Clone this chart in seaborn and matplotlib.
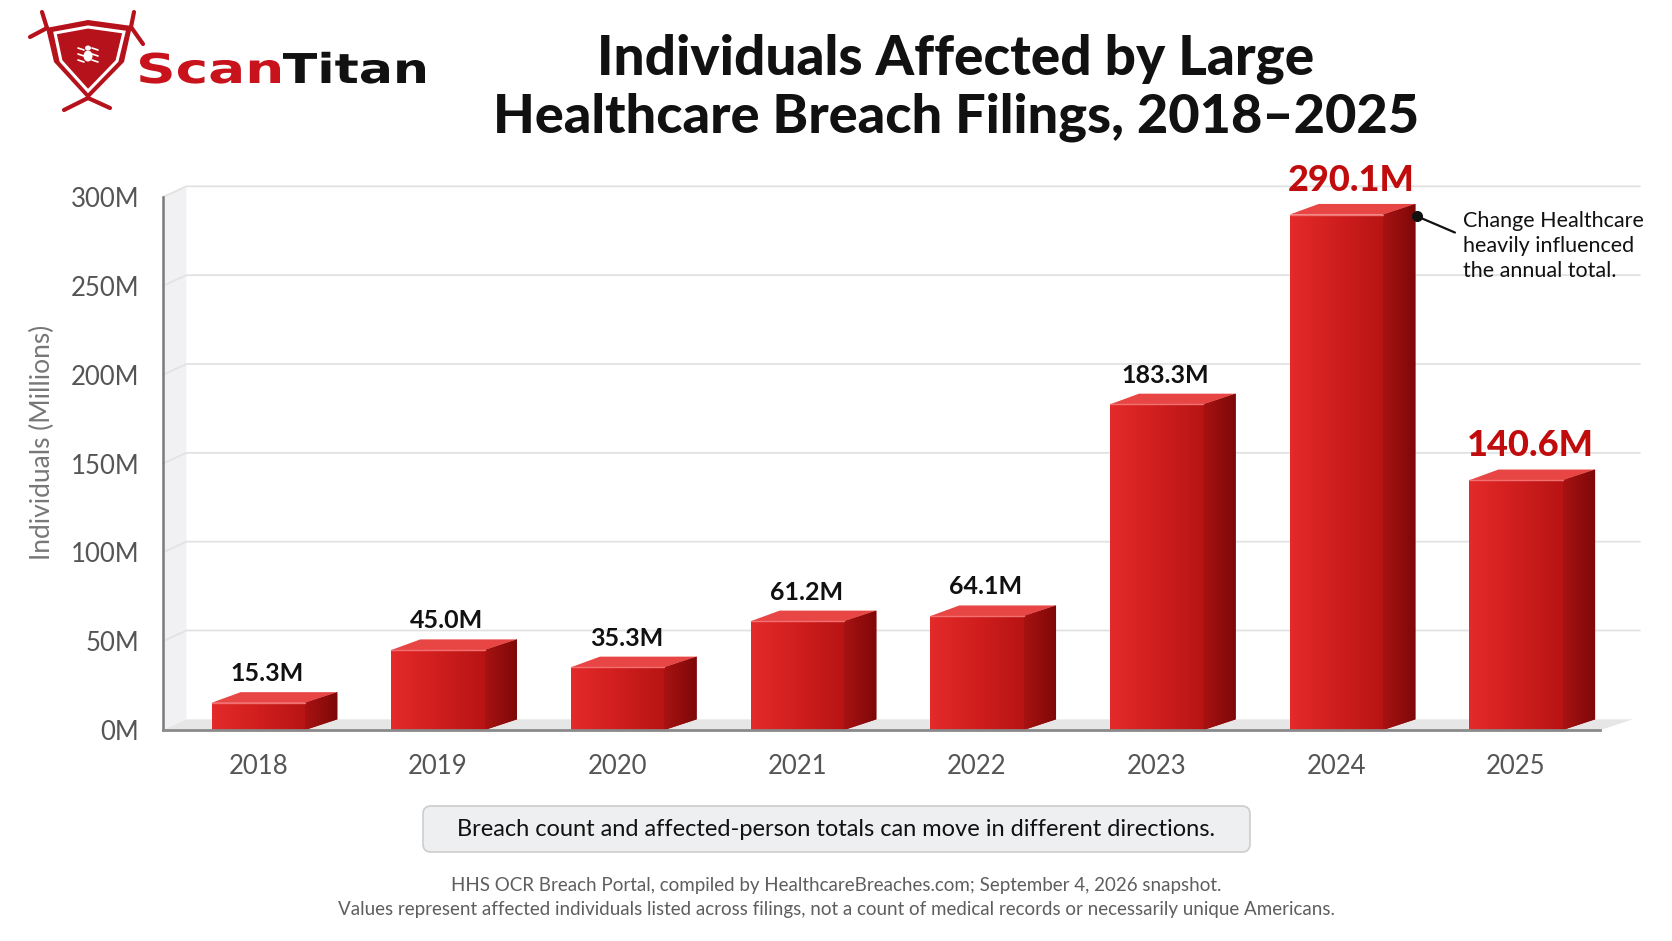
import numpy as np
import pandas as pd
import matplotlib
matplotlib.use("Agg")
import matplotlib.pyplot as plt
from matplotlib.patches import Polygon, FancyBboxPatch, PathPatch, Ellipse
from matplotlib.textpath import TextPath
from matplotlib.font_manager import FontProperties
from matplotlib.transforms import Affine2D
import seaborn as sns

# data
years = ["2018", "2019", "2020", "2021", "2022", "2023", "2024", "2025"]
individuals_m = [15.3, 45.0, 35.3, 61.2, 64.1, 183.3, 290.1, 140.6]
value_labels = ["15.3M", "45.0M", "35.3M", "61.2M", "64.1M", "183.3M", "290.1M", "140.6M"]
highlight_years = ["2024", "2025"]
y_ticks = [0, 50, 100, 150, 200, 250, 300]
y_ticklabels = ["0M", "50M", "100M", "150M", "200M", "250M", "300M"]

df = pd.DataFrame({"year": years, "individuals": individuals_m})

sns.set_theme(style="white")
plt.rcParams["font.family"] = ["Lato", "DejaVu Sans"]

RED = "#D42222"
SIDE = "#981010"
TOP = "#E84545"
DARK_RED = "#C00C0C"
GREY = "#555555"

W, H = 1672, 941
fig = plt.figure(figsize=(W / 100, H / 100), dpi=100)
fig.patch.set_facecolor("white")

# main axes, placed in pixel terms
ax_left, ax_right, ax_top, ax_bot = 163, 1640, 197, 730
ax = fig.add_axes([ax_left / W, 1 - ax_bot / H, (ax_right - ax_left) / W, (ax_bot - ax_top) / H])
xmin, xmax = -0.53, 7.69

bar_w = 0.52
dx, dy = 0.18, 6.0  # depth offset for the 3d look
wall_x = xmin + 0.13

sns.barplot(data=df, x="year", y="individuals", color=RED, width=bar_w, ax=ax,
            saturation=1, zorder=2)
bars = list(ax.patches)

# back wall and floor
ax.add_patch(Polygon([(xmin, 0), (wall_x, dy), (wall_x, 300 + dy), (xmin, 300)],
                     closed=True, facecolor="#F1F1F3", edgecolor="none", zorder=0, clip_on=False))
ax.add_patch(Polygon([(xmin, 0), (7.47, 0), (7.47 + dx, dy), (wall_x, dy)],
                     closed=True, facecolor="#E6E6E6", edgecolor="none", zorder=0))
for t in y_ticks[1:]:
    ax.plot([xmin, wall_x, xmax], [t, t + dy, t + dy], color="#E2E2E2", lw=1.3, zorder=0.5,
            clip_on=False)

grad = np.linspace(0, 1, 256).reshape(1, -1)
cmap = matplotlib.colors.LinearSegmentedColormap.from_list("front", ["#E42A2A", "#D01E1E", "#B81414"])
side_cmap = matplotlib.colors.LinearSegmentedColormap.from_list("side", ["#A81212", "#7E0808"])
for p in bars:
    x0 = p.get_x()
    x1 = x0 + p.get_width()
    h = p.get_height()
    im = ax.imshow(grad, extent=[x0, x1, 0, h], aspect="auto", cmap=cmap, zorder=2.1,
                   origin="lower")
    im.set_clip_path(p)
    side = Polygon([(x1, 0), (x1 + dx, dy), (x1 + dx, h + dy), (x1, h)], closed=True,
                   facecolor=SIDE, edgecolor="none", zorder=2)
    ax.add_patch(side)
    im2 = ax.imshow(grad, extent=[x1, x1 + dx, 0, h + dy], aspect="auto", cmap=side_cmap,
                    zorder=2.1, origin="lower")
    im2.set_clip_path(side)
    ax.add_patch(Polygon([(x0, h), (x1, h), (x1 + dx, h + dy), (x0 + dx * 0.9, h + dy)],
                         closed=True, facecolor=TOP, edgecolor="none", zorder=2))
    ax.plot([x0, x1], [h, h], color="#F27070", lw=1, zorder=2.2)

ax.set_xlim(xmin, xmax)
ax.set_ylim(0, 300)

# value labels
for i, (yr, v, lab) in enumerate(zip(years, individuals_m, value_labels)):
    if yr in highlight_years:
        ax.text(i + 0.08, v + 10, lab, ha="center", va="bottom", fontsize=26, fontweight="black",
                color=DARK_RED, clip_on=False, zorder=5)
    else:
        ax.text(i + 0.05, v + 10, lab, ha="center", va="bottom", fontsize=18, fontweight="bold",
                color="#111111", clip_on=False, zorder=5)

# annotation for 2024
i24 = years.index("2024")
ax.plot([i24 + bar_w / 2 + 0.19, i24 + 0.66], [individuals_m[i24] - 1, 280], color="#111111",
        lw=1.6, zorder=5, clip_on=False)
ax.plot([i24 + bar_w / 2 + 0.19], [individuals_m[i24] - 1], "o", color="#111111", ms=7,
        zorder=5, clip_on=False)
ax.text(i24 + 0.705, 292, "Change Healthcare\nheavily influenced\nthe annual total.",
        ha="left", va="top", fontsize=15.5, color="#111111", linespacing=1.3, clip_on=False)

# axes styling
for s in ["top", "right"]:
    ax.spines[s].set_visible(False)
ax.spines["left"].set_color("#7A7A7A")
ax.spines["left"].set_linewidth(1.8)
ax.spines["bottom"].set_color("#8A8A8A")
ax.spines["bottom"].set_linewidth(2)
ax.spines["bottom"].set_bounds(xmin, 7.47)
ax.set_yticks(y_ticks)
ax.set_yticklabels(y_ticklabels)
ax.tick_params(axis="y", length=9, width=1.8, color="#7A7A7A", labelsize=18.5, labelcolor=GREY, pad=8)
ax.tick_params(axis="x", length=7, width=1, color="#AAAAAA", labelsize=18.5, labelcolor=GREY, pad=10)
ax.set_xlabel("")
ax.set_ylabel("Individuals (Millions)", fontsize=19, color="#777777")
ax.yaxis.set_label_coords(-0.073, 0.54)
ax.patch.set_alpha(0)

# title
fig.text(956 / W, 1 - 59 / H, "Individuals Affected by Large", ha="center", va="center",
         fontsize=39.5, fontweight="black", color="#111111")
fig.text(956 / W, 1 - 117 / H, "Healthcare Breach Filings, 2018\u20132025", ha="center",
         va="center", fontsize=39, fontweight="black", color="#111111")

# overlay in pixel coordinates for logo, note box and footer
ov = fig.add_axes([0, 0, 1, 1])
ov.set_xlim(0, W)
ov.set_ylim(H, 0)
ov.axis("off")
ov.patch.set_alpha(0)

# logo shield
LOGO_RED = "#B5121B"
ov.add_patch(Polygon([(46, 28), (88, 20), (132, 26), (124, 62), (88, 99), (54, 62)], closed=True,
                     facecolor=LOGO_RED, edgecolor="none"))
ov.add_patch(Polygon([(55, 33), (88, 27), (124, 32), (117, 61), (88, 91), (61, 61)], closed=True,
                     facecolor="none", edgecolor="white", lw=2.2))
for seg in [((47, 28), (42, 12)), ((47, 28), (30, 37)), ((131, 27), (134, 12)),
            ((131, 27), (143, 44)), ((88, 98), (64, 110)), ((88, 98), (110, 108))]:
    ov.plot([seg[0][0], seg[1][0]], [seg[0][1], seg[1][1]], color=LOGO_RED, lw=3,
            solid_capstyle="round")
# little bug icon
ov.add_patch(Ellipse((88, 56), 9, 11, facecolor="white", edgecolor="none"))
ov.add_patch(Ellipse((88, 48), 6, 5, facecolor="white", edgecolor="none"))
for lx in [(-10, -4), (4, 10)]:
    for ly in [50, 56, 62]:
        ov.plot([88 + lx[0], 88 + lx[1]], [ly - 2, ly], color="white", lw=1.2)


def logo_word(word, x0, x1, baseline, cap, color):
    fp = FontProperties(family="DejaVu Sans", weight="bold")
    tp = TextPath((0, 0), word, size=1, prop=fp)
    ext = tp.get_extents()
    sx = (x1 - x0) / ext.width
    sy = cap / 0.73
    tr = Affine2D().translate(-ext.x0, 0).scale(sx, -sy).translate(x0, baseline) + ov.transData
    ov.add_patch(PathPatch(tp, transform=tr, facecolor=color, edgecolor="none"))


logo_word("Scan", 140, 280, 83, 30, "#C8121C")
logo_word("Titan", 283, 425, 83, 30, "#111111")

# note box
ov.add_patch(FancyBboxPatch((423, 806), 827, 46, boxstyle="round,pad=0,rounding_size=8",
                            facecolor="#EEEFF1", edgecolor="#CDCDCD", lw=1.2))
ov.text(836, 829, "Breach count and affected-person totals can move in different directions.",
        ha="center", va="center", fontsize=17, color="#111111")

# footer
ov.text(836, 885, "HHS OCR Breach Portal, compiled by HealthcareBreaches.com; September 4, 2026 snapshot.",
        ha="center", va="center", fontsize=13.5, color="#5E5E5E")
ov.text(836, 909, "Values represent affected individuals listed across filings, not a count of medical records or necessarily unique Americans.",
        ha="center", va="center", fontsize=13.5, color="#5E5E5E")

fig.savefig("out.png", dpi=100)
